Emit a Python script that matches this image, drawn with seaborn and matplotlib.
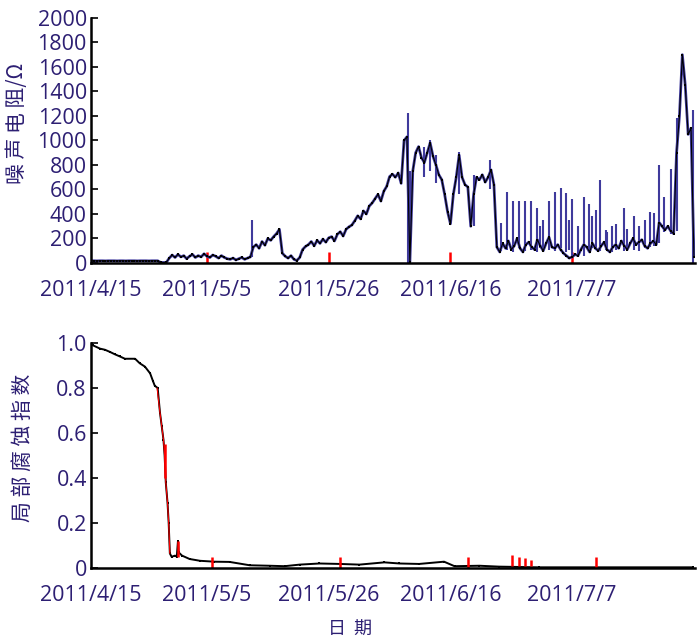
import matplotlib
matplotlib.use("Agg")
import matplotlib.pyplot as plt
import numpy as np
import pandas as pd
import seaborn as sns

START = pd.Timestamp("2011-04-15")
INK = "#2d1f73"
BLUE = "#3f3a9c"

# x tick labels
tick_dates = ["2011-04-15", "2011-05-05", "2011-05-26", "2011-06-16", "2011-07-07"]
tick_labels = ["2011/4/15", "2011/5/5", "2011/5/26", "2011/6/16", "2011/7/7"]

# noise resistance (ohm), one value every 12 h starting 2011/4/15
noise_black = [
    18, 18, 17, 18, 18, 17, 18, 18, 18, 17, 18, 18, 17, 18, 18, 18, 17, 18, 18, 18,
    17, 18, 18, 18,
    5, 4, 5,
    40, 65, 45, 70, 50, 60, 35, 55, 70, 45, 60, 50, 75, 55, 45, 65, 55, 40, 60, 45,
    35, 30, 40, 25, 35, 45, 30, 40, 50,
    130,
    150, 120, 175, 145, 200, 185, 215, 240, 275,
    80,
    55, 40, 60, 30, 20, 45,
    110, 135, 150, 175, 140, 185, 160, 195, 170, 205,
    215, 180, 235, 255, 220, 275, 295,
    310, 345, 385, 360, 425, 400, 465,
    490, 525, 560, 505, 585, 625, 705,
    725, 700, 735, 650,
    1000, 1030,
    10,
    750, 900, 950, 860, 820, 900, 980, 870, 800, 720,
    680, 560, 420, 320, 560, 700, 880, 700, 640, 620,
    300, 560, 700, 680, 720, 660, 700, 760, 640, 130,
    90, 160, 120, 180, 110, 140, 200, 120, 90, 150,
    170, 130, 110, 190, 140, 100, 160, 210, 130, 120,
    150, 110, 80, 60, 40, 50, 70, 60, 110, 150,
    130, 90, 160, 120, 100, 140, 170, 110, 90, 130,
    150, 120, 180, 140, 110, 160, 200, 150, 170, 190,
    140, 120, 160, 180, 150,
    330, 300, 270, 300, 260, 240, 900, 1200, 1700, 1450, 1050, 1100, 50,
]

# blue spikes of the noise resistance: day offset, low, high
spike_day = [27.7, 54.7, 55.0, 57.5, 58.5, 59.5, 63.5, 66.0, 68.8,
             70.7, 71.8, 72.8, 73.8, 74.9, 75.9, 76.9, 77.5, 78.0, 79.0,
             80.0, 81.1, 81.9, 82.5, 83.0, 84.0, 85.0, 85.9, 86.5, 87.1,
             87.8, 88.8, 89.0, 89.8, 90.5, 91.9, 92.5, 93.6, 94.5, 95.5,
             96.4, 97.1, 97.9, 98.8, 100.0, 101.0, 103.8]
spike_lo = [50, 0, 0, 700, 750, 650, 560, 300, 600,
            100, 110, 90, 120, 100, 110, 90, 120, 100, 110,
            100, 120, 90, 110, 60, 50, 60, 90, 120, 110,
            100, 110, 120, 90, 110, 100, 120, 110, 100, 120,
            130, 140, 160, 250, 240, 260, 0]
spike_hi = [350, 1225, 750, 950, 1000, 880, 910, 720, 840,
            330, 580, 510, 510, 510, 510, 450, 300, 350, 510,
            580, 610, 570, 350, 520, 300, 540, 480, 380, 430,
            680, 270, 250, 300, 320, 450, 280, 380, 300, 350,
            420, 410, 800, 540, 770, 1180, 1250]

# local corrosion index
corr_day = [0, 0.3, 1.55, 2.4, 3.3, 4.1, 5.0, 5.85, 7.6, 8.4, 9.3, 10.2, 10.7,
            11.0, 11.5, 11.9, 12.2, 12.5, 12.7, 12.9, 13.2, 13.4, 13.6, 13.9,
            14.5, 14.8, 15.0, 15.1, 15.7, 17.0, 18.8, 21.3, 23.9, 27.4, 30.8,
            33.4, 36.0, 39.4, 42.9, 46.3, 50.6, 53.2, 56.6, 60.9, 62.7, 67.0,
            70.4, 77.3, 103.8]
corr_val = [1.0, 0.99, 0.975, 0.97, 0.96, 0.95, 0.94, 0.93, 0.93, 0.91, 0.895,
            0.865, 0.83, 0.81, 0.80, 0.69, 0.63, 0.57, 0.50, 0.38, 0.29, 0.20,
            0.065, 0.05, 0.055, 0.05, 0.12, 0.07, 0.055, 0.04, 0.032, 0.028,
            0.027, 0.012, 0.010, 0.008, 0.015, 0.02, 0.018, 0.015, 0.025, 0.02,
            0.018, 0.028, 0.008, 0.01, 0.006, 0.003, 0.003]

# red part of the corrosion drop
red_day = [11.4, 11.9, 12.2, 12.5, 12.7, 12.9, 13.2, 13.4, 13.6]
red_val = [0.80, 0.69, 0.63, 0.57, 0.50, 0.38, 0.29, 0.20, 0.065]
# short red bars on the corrosion plot: day, low, high
red_bar_day = [12.7, 15.0, 20.8, 42.9, 65.1, 72.6, 73.8, 74.9, 75.9, 87.1]
red_bar_lo = [0.40, 0.05, 0.0, 0.0, 0.0, 0.01, 0.01, 0.01, 0.01, 0.0]
red_bar_hi = [0.55, 0.12, 0.05, 0.05, 0.05, 0.058, 0.05, 0.045, 0.035, 0.05]


def to_date(days):
    return START + pd.to_timedelta(np.asarray(days, dtype=float), unit="D")


noise_df = pd.DataFrame({
    "date": to_date(np.arange(len(noise_black)) * 0.5),
    "R": noise_black,
})
corr_df = pd.DataFrame({"date": to_date(corr_day), "LI": corr_val})
red_df = pd.DataFrame({"date": to_date(red_day), "LI": red_val})

sns.set_theme(style="ticks")
plt.rcParams["font.family"] = ["Open Sans", "DejaVu Sans"]

fig = plt.figure(figsize=(7.0, 6.41), dpi=100)
ax1 = fig.add_axes([0.13, 0.5897, 0.863, 0.3823])
ax2 = fig.add_axes([0.13, 0.1139, 0.863, 0.3510])

# top: noise resistance
sns.lineplot(data=noise_df, x="date", y="R", ax=ax1, color=BLUE, lw=2.0)
ax1.vlines(to_date(spike_day), spike_lo, spike_hi, color=BLUE, lw=1.5)
sns.lineplot(data=noise_df, x="date", y="R", ax=ax1, color="black", lw=0.8,
             marker="s", markersize=1.6, markeredgewidth=0)
ax1.set_ylim(0, 2000)
ax1.set_yticks(np.arange(0, 2001, 200))

# bottom: local corrosion index
sns.lineplot(data=corr_df, x="date", y="LI", ax=ax2, color="black", lw=1.4,
             marker="s", markersize=2, markeredgewidth=0)
sns.lineplot(data=red_df, x="date", y="LI", ax=ax2, color="red", lw=0.8)
ax2.vlines(to_date(red_bar_day), red_bar_lo, red_bar_hi, color="red", lw=1.8)
ax2.set_ylim(0, 1.0)
ax2.set_yticks([0, 0.2, 0.4, 0.6, 0.8, 1.0])
ax2.set_yticklabels(["0", "0.2", "0.4", "0.6", "0.8", "1.0"])

for ax in (ax1, ax2):
    ax.set_xlim(START, START + pd.Timedelta(days=104.2))
    ax.set_xticks(pd.to_datetime(tick_dates))
    ax.set_xticklabels(tick_labels)
    ax.set_xlabel("")
    ax.set_ylabel("")
    sns.despine(ax=ax)
    for s in ("left", "bottom"):
        ax.spines[s].set_linewidth(1.8)
        ax.spines[s].set_color("black")
    ax.tick_params(axis="y", direction="in", length=5, width=1.2, color="black",
                   pad=3, labelsize=15.5, labelcolor=INK)
    ax.tick_params(axis="x", labelsize=15.5, labelcolor=INK, pad=12)

ax1.tick_params(axis="x", direction="in", length=8, width=1.8, color="red")
ax1.xaxis.get_major_ticks()[0].tick1line.set_visible(False)
ax2.tick_params(axis="x", length=0)

cjk = ["Noto Sans CJK SC", "DejaVu Sans"]
fig.text(0.024, 0.808, "噪 声 电 阻/Ω", rotation=90, ha="center", va="center",
         fontsize=15, color=INK, family=cjk)
fig.text(0.033, 0.301, "局 部 腐 蚀 指 数", rotation=90, ha="center", va="center",
         fontsize=15, color=INK, family=cjk)
fig.text(0.5, 0.017, "日  期", ha="center", va="center",
         fontsize=13, color=INK, family=cjk)

fig.savefig("out.png", dpi=100)
